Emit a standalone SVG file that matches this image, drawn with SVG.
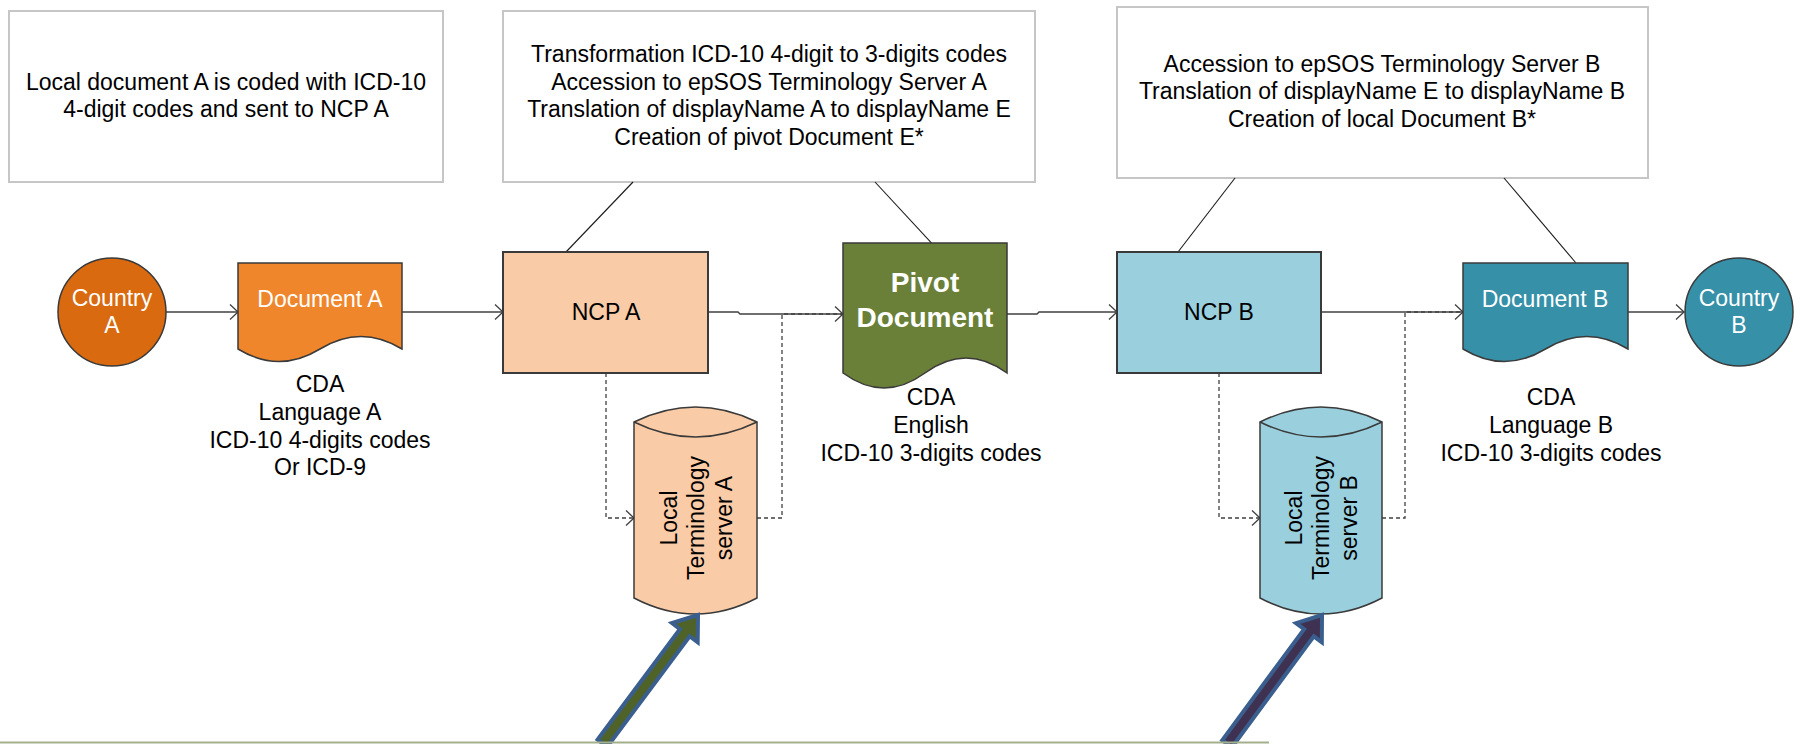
<svg xmlns="http://www.w3.org/2000/svg" width="1800" height="744" viewBox="0 0 1800 744">
<style>
text{font-family:"Liberation Sans",Arial,sans-serif;font-size:23px;fill:#000}
.w{fill:#fff}
.b{font-weight:bold;font-size:28px}
.note{fill:#fff;stroke:#C6C6C6;stroke-width:2}
.shape{stroke:#3a3a3a;stroke-width:1.5}
.con{fill:none;stroke:#404040;stroke-width:1.4}
.dash{fill:none;stroke:#404040;stroke-width:1.3;stroke-dasharray:4 3}
.ann{fill:none;stroke:#1a1a1a;stroke-width:1.1}
.big{stroke:#3A5F8E;stroke-width:4;stroke-linejoin:miter}
</style>
<defs>
<marker id="ah" markerUnits="userSpaceOnUse" markerWidth="12" markerHeight="18" refX="8" refY="7.5" orient="auto" overflow="visible">
<path d="M0,0 L8,7.5 L0,15" fill="none" stroke="#404040" stroke-width="1.3"/>
</marker>
</defs>
<rect width="1800" height="744" fill="#fff"/>

<g id="note1">
<rect class="note" x="9" y="11" width="434" height="171"/>
<text text-anchor="middle" x="226" y="90">Local document A is coded with ICD-10</text>
<text text-anchor="middle" x="226" y="117">4-digit codes and sent to NCP A</text>
</g>
<g id="note2">
<rect class="note" x="503" y="11" width="532" height="171"/>
<text text-anchor="middle" x="769" y="62">Transformation ICD-10 4-digit to 3-digits codes</text>
<text text-anchor="middle" x="769" y="90">Accession to epSOS Terminology Server A</text>
<text text-anchor="middle" x="769" y="117">Translation of displayName A to displayName E</text>
<text text-anchor="middle" x="769" y="145">Creation of pivot Document E*</text>
</g>
<g id="note3">
<rect class="note" x="1117" y="7" width="531" height="171"/>
<text text-anchor="middle" x="1382" y="72">Accession to epSOS Terminology Server B</text>
<text text-anchor="middle" x="1382" y="99">Translation of displayName E to displayName B</text>
<text text-anchor="middle" x="1382" y="127">Creation of local Document B*</text>
</g>

<g id="connectors">
<line class="ann" x1="633" y1="182" x2="566" y2="252"/>
<line class="ann" x1="875" y1="182" x2="950" y2="263"/>
<line class="ann" x1="1235" y1="178" x2="1178" y2="252"/>
<line class="ann" x1="1504" y1="178" x2="1576" y2="263"/>
<path class="con" d="M166,312 H238" marker-end="url(#ah)"/>
<path class="con" d="M402,312 H503" marker-end="url(#ah)"/>
<path class="con" d="M708,312 H738 L740,314 H843" marker-end="url(#ah)"/>
<path class="con" d="M1007,314 H1037 L1039,312 H1117" marker-end="url(#ah)"/>
<path class="con" d="M1321,312 H1463" marker-end="url(#ah)"/>
<path class="con" d="M1628,312 H1684" marker-end="url(#ah)"/>
<path class="dash" d="M606,373 V518 H634" marker-end="url(#ah)"/>
<path class="dash" d="M757,518 H782 V314 H843"/>
<path class="dash" d="M1219,373 V518 H1260" marker-end="url(#ah)"/>
<path class="dash" d="M1382,518 H1405 V312 H1463"/>
</g>

<g id="countryA">
<circle class="shape" cx="112" cy="312" r="54" fill="#D96A10"/>
<text class="w" text-anchor="middle" x="112" y="306">Country</text>
<text class="w" text-anchor="middle" x="112" y="333">A</text>
</g>
<g id="documentA">
<path class="shape" fill="#F0862B" d="M238,263 H402 V349 Q361,324 320,349 T238,349 Z"/>
<text class="w" text-anchor="middle" x="320" y="307">Document A</text>
<text text-anchor="middle" x="320" y="392">CDA</text>
<text text-anchor="middle" x="320" y="420">Language A</text>
<text text-anchor="middle" x="320" y="448">ICD-10 4-digits codes</text>
<text text-anchor="middle" x="320" y="475">Or ICD-9</text>
</g>
<g id="ncpA">
<rect x="503" y="252" width="205" height="121" fill="#F9CBA6" stroke="#3a3a3a" stroke-width="2"/>
<text text-anchor="middle" x="606" y="320">NCP A</text>
</g>
<g id="serverA">
<path class="shape" fill="#F9CBA6" d="M634,422 Q695.5,392 757,422 V598 Q695.5,630 634,598 Z"/>
<path class="shape" fill="none" d="M634,422 Q695.5,452 757,422"/>
<text text-anchor="middle" transform="translate(695.5,518) rotate(-90)"><tspan x="0" y="-19">Local</tspan><tspan x="0" y="8">Terminology</tspan><tspan x="0" y="36">server A</tspan></text>
</g>
<g id="pivot">
<path class="shape" fill="#6A7F37" d="M843,243 H1007 V373 Q966,343 925,373 T843,373 Z"/>
<text class="w b" text-anchor="middle" x="925" y="292">Pivot</text>
<text class="w b" text-anchor="middle" x="925" y="327">Document</text>
<text text-anchor="middle" x="931" y="405">CDA</text>
<text text-anchor="middle" x="931" y="433">English</text>
<text text-anchor="middle" x="931" y="461">ICD-10 3-digits codes</text>
</g>
<g id="ncpB">
<rect x="1117" y="252" width="204" height="121" fill="#9AD0DE" stroke="#3a3a3a" stroke-width="2"/>
<text text-anchor="middle" x="1219" y="320">NCP B</text>
</g>
<g id="serverB">
<path class="shape" fill="#9AD0DE" d="M1260,422 Q1321,392 1382,422 V598 Q1321,630 1260,598 Z"/>
<path class="shape" fill="none" d="M1260,422 Q1321,452 1382,422"/>
<text text-anchor="middle" transform="translate(1321,518) rotate(-90)"><tspan x="0" y="-19">Local</tspan><tspan x="0" y="8">Terminology</tspan><tspan x="0" y="36">server B</tspan></text>
</g>
<g id="documentB">
<path class="shape" fill="#3690A8" d="M1463,263 H1628 V349 Q1586.75,324 1545.5,349 T1463,349 Z"/>
<text class="w" text-anchor="middle" x="1545" y="307">Document B</text>
<text text-anchor="middle" x="1551" y="405">CDA</text>
<text text-anchor="middle" x="1551" y="433">Language B</text>
<text text-anchor="middle" x="1551" y="461">ICD-10 3-digits codes</text>
</g>
<g id="countryB">
<circle class="shape" cx="1739" cy="312" r="54" fill="#3690A8"/>
<text class="w" text-anchor="middle" x="1739" y="306">Country</text>
<text class="w" text-anchor="middle" x="1739" y="333">B</text>
</g>

<g id="arrowA" transform="translate(698,615) rotate(-53.3)">
<path class="big" fill="#4F6228" d="M0,0 L-22,-16 L-22,-6 L-160,-6 L-160,6 L-22,6 L-22,16 Z"/>
</g>
<g id="arrowB" transform="translate(1322,615) rotate(-53.6)">
<path class="big" fill="#3F3151" d="M0,0 L-22,-16 L-22,-6 L-160,-6 L-160,6 L-22,6 L-22,16 Z"/>
</g>
<line x1="0" y1="742.5" x2="1269" y2="742.5" stroke="#A4B08C" stroke-width="2"/>
</svg>
